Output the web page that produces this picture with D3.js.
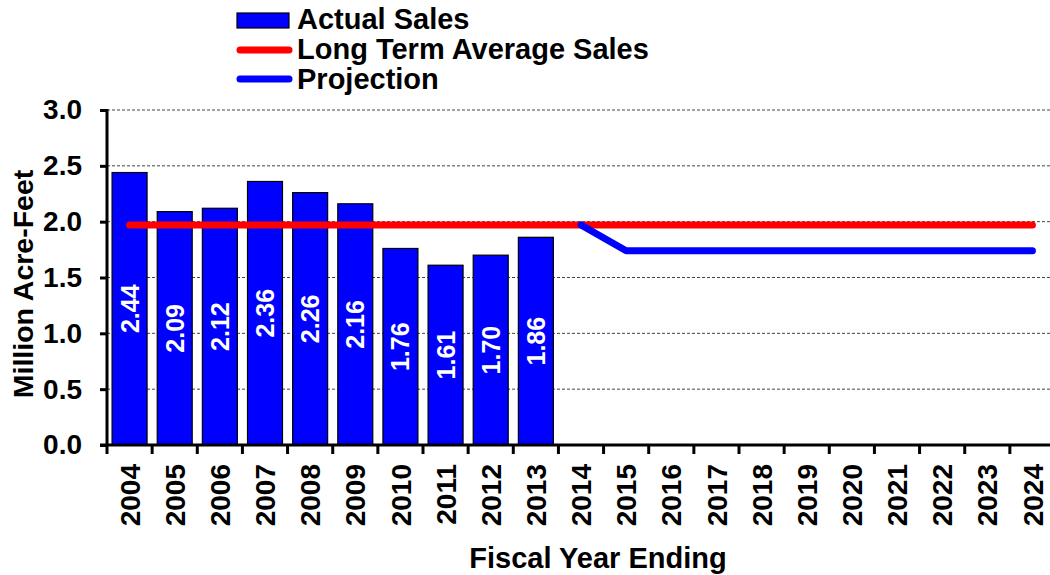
<!DOCTYPE html>
<html>
<head>
<meta charset="utf-8">
<script src="https://cdn.jsdelivr.net/npm/d3@7"></script>
<style>
  body { margin: 0; background: #fff; }
  svg { display: block; font-family: "Liberation Sans", Arial, sans-serif; font-weight: bold; }
</style>
</head>
<body>
<svg id="chart" width="1050" height="575"></svg>
<script>
// Fiscal years on the x axis
var years = ["2004", "2005", "2006", "2007", "2008", "2009", "2010", "2011", "2012", "2013",
  "2014", "2015", "2016", "2017", "2018", "2019", "2020", "2021", "2022", "2023", "2024"];

// Actual sales (million acre-feet)
var salesYears = ["2004", "2005", "2006", "2007", "2008", "2009", "2010", "2011", "2012", "2013"];
var salesValues = [2.44, 2.09, 2.12, 2.36, 2.26, 2.16, 1.76, 1.61, 1.70, 1.86];

// Long term average sales line
var avgYears = ["2004", "2024"];
var avgValues = [1.97, 1.97];

// Projection line
var projYears = ["2014", "2015", "2024"];
var projValues = [1.97, 1.74, 1.74];

var yTicks = [0, 0.5, 1.0, 1.5, 2.0, 2.5, 3.0];

var svg = d3.select("#chart");

// Scales
var x = d3.scaleBand()
  .domain(years)
  .range([107, 1055])
  .paddingInner(0.225)
  .paddingOuter(0.1125);

var y = d3.scaleLinear()
  .domain([0, 3])
  .range([445, 110]);

var step = x.step();
var left = x.range()[0];

// Dashed gridlines
svg.append("g")
  .selectAll("line")
  .data(yTicks.slice(1))
  .enter().append("line")
  .attr("x1", left)
  .attr("x2", 1050)
  .attr("y1", function(d) { return y(d); })
  .attr("y2", function(d) { return y(d); })
  .attr("stroke", "#444")
  .attr("stroke-width", 1)
  .attr("stroke-dasharray", "3,2");

// Bars
svg.append("g")
  .selectAll("rect")
  .data(salesValues)
  .enter().append("rect")
  .attr("x", function(d, i) { return x(salesYears[i]); })
  .attr("y", function(d) { return y(d); })
  .attr("width", x.bandwidth())
  .attr("height", function(d) { return y(0) - y(d); })
  .attr("fill", "#0000ff")
  .attr("stroke", "#000")
  .attr("stroke-width", 1.2);

// Bar labels
svg.append("g")
  .selectAll("text")
  .data(salesValues)
  .enter().append("text")
  .attr("transform", function(d, i) {
    var cx = x(salesYears[i]) + x.bandwidth() / 2;
    var cy = (y(d) + y(0)) / 2;
    return "translate(" + cx + "," + cy + ") rotate(-90)";
  })
  .attr("dy", "0.36em")
  .attr("text-anchor", "middle")
  .attr("fill", "#fff")
  .style("font-size", "25px")
  .text(function(d) { return d.toFixed(2); });

// Lines
var line = d3.line()
  .x(function(d) { return x(d[0]) + x.bandwidth() / 2; })
  .y(function(d) { return y(d[1]); });

svg.append("path")
  .attr("d", line(avgYears.map(function(yr, i) { return [yr, avgValues[i]]; })))
  .attr("fill", "none")
  .attr("stroke", "#ff0000")
  .attr("stroke-width", 7)
  .attr("stroke-linecap", "round");

svg.append("path")
  .attr("d", line(projYears.map(function(yr, i) { return [yr, projValues[i]]; })))
  .attr("fill", "none")
  .attr("stroke", "#0000ff")
  .attr("stroke-width", 7)
  .attr("stroke-linecap", "round")
  .attr("stroke-linejoin", "round");

// Y axis
var yAxis = svg.append("g")
  .attr("transform", "translate(" + left + ",0)")
  .call(d3.axisLeft(y).tickValues(yTicks).tickFormat(d3.format(".1f")).tickSize(7).tickPadding(18));

yAxis.select(".domain")
  .attr("d", "M0," + (y(3) - 1) + "V" + y(0))
  .attr("stroke-width", 3);
yAxis.selectAll(".tick line").attr("stroke-width", 3);
yAxis.selectAll(".tick text")
  .style("font-size", "28px")
  .style("font-family", "Liberation Sans, Arial, sans-serif")
  .style("font-weight", "bold")
  .attr("fill", "#000");

// X axis line and boundary ticks
svg.append("line")
  .attr("x1", left - 7)
  .attr("x2", 1055)
  .attr("y1", y(0))
  .attr("y2", y(0))
  .attr("stroke", "#000")
  .attr("stroke-width", 3);

svg.append("g")
  .selectAll("line")
  .data(years)
  .enter().append("line")
  .attr("x1", function(d) { return x(d) - (step - x.bandwidth()) / 2; })
  .attr("x2", function(d) { return x(d) - (step - x.bandwidth()) / 2; })
  .attr("y1", y(0))
  .attr("y2", y(0) + 9)
  .attr("stroke", "#000")
  .attr("stroke-width", 3);

// X tick labels
svg.append("g")
  .selectAll("text")
  .data(years)
  .enter().append("text")
  .attr("transform", function(d) {
    return "translate(" + (x(d) + x.bandwidth() / 2) + "," + (y(0) + 19) + ") rotate(-90)";
  })
  .attr("dy", "0.36em")
  .attr("text-anchor", "end")
  .style("font-size", "28px")
  .text(function(d) { return d; });

// Axis titles
svg.append("text")
  .attr("transform", "translate(33,284) rotate(-90)")
  .attr("text-anchor", "middle")
  .style("font-size", "28.5px")
  .text("Million Acre-Feet");

svg.append("text")
  .attr("x", 598)
  .attr("y", 568)
  .attr("text-anchor", "middle")
  .style("font-size", "29px")
  .text("Fiscal Year Ending");

// Legend
var legend = svg.append("g");

legend.append("rect")
  .attr("x", 237)
  .attr("y", 13)
  .attr("width", 52)
  .attr("height", 15)
  .attr("fill", "#0000ff")
  .attr("stroke", "#000")
  .attr("stroke-width", 1.2);

legend.append("line")
  .attr("x1", 240).attr("x2", 289)
  .attr("y1", 50).attr("y2", 50)
  .attr("stroke", "#ff0000")
  .attr("stroke-width", 7)
  .attr("stroke-linecap", "round");

legend.append("line")
  .attr("x1", 240).attr("x2", 289)
  .attr("y1", 79).attr("y2", 79)
  .attr("stroke", "#0000ff")
  .attr("stroke-width", 7)
  .attr("stroke-linecap", "round");

var legendLabels = ["Actual Sales", "Long Term Average Sales", "Projection"];
legend.selectAll("text")
  .data(legendLabels)
  .enter().append("text")
  .attr("x", 297)
  .attr("y", function(d, i) { return 29 + i * 30; })
  .style("font-size", "29px")
  .text(function(d) { return d; });
</script>
</body>
</html>
